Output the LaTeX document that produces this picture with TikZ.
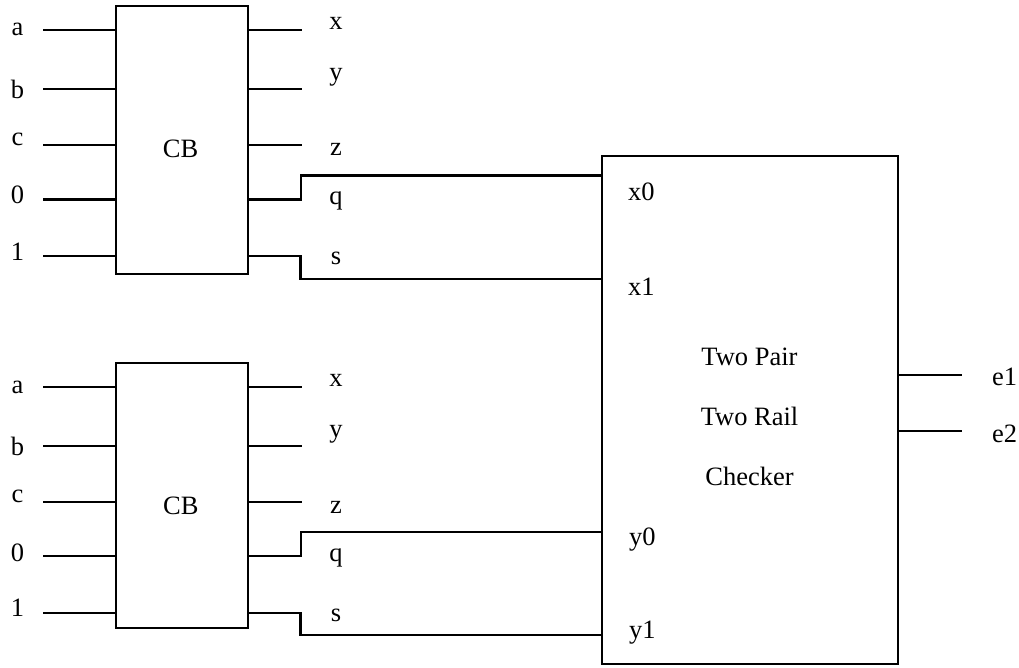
\documentclass[tikz,border=0pt]{standalone}
\usepackage{fontspec}
\setmainfont{Liberation Serif}
\begin{document}
\begin{tikzpicture}[x=1pt,y=-1pt,line width=2.2pt,
  font=\fontsize{26.5}{31}\selectfont,
  blk/.style={draw,rectangle,inner sep=0pt,anchor=north west},
  lbl/.style={anchor=base,inner sep=0pt},
  lblw/.style={anchor=base west,inner sep=0pt}]
\useasboundingbox (0,0) rectangle (1019,668);

% ---------- blocks ----------
\node[blk,minimum width=132pt,minimum height=267.7pt] (cb1) at (114.5,5) {};
\node[blk,minimum width=131.5pt,minimum height=265pt] (cb2) at (115,361.7) {};
\node[blk,minimum width=296pt,minimum height=508pt] (chk) at (601,155) {};

\node[lbl] (cb1t) at (180.5,157.3) {CB};
\node[lbl] (cb2t) at (180.8,514) {CB};

% ---------- upper CB inputs ----------
\foreach \n/\y/\b in {a/30/36, b/89/99, c/145/146, 0/199.5/204, 1/255.7/260} {
  \node[lbl] (tl\n) at (17.5,\b) {\n};
  \coordinate (ti\n) at (43,\y);
  \draw (ti\n) -- (ti\n -| cb1.west);
}
% ---------- lower CB inputs ----------
\foreach \n/\y/\b in {a/386.7/393, b/446/455, c/501.7/502.7, 0/556/561.7, 1/612.7/616.7} {
  \node[lbl] (bl\n) at (17.5,\b) {\n};
  \coordinate (bi\n) at (43,\y);
  \draw (bi\n) -- (bi\n -| cb2.west);
}

% ---------- upper CB outputs ----------
\foreach \n/\y/\b in {x/30/29.7, y/89/80.5, z/145/156} {
  \coordinate (to\n) at (301.5,\y);
  \draw (to\n -| cb1.east) -- (to\n);
  \node[lbl] (tol\n) at (336,\b) {\n};
}
\node[lbl] (tolq) at (336,204.5) {q};
\node[lbl] (tols) at (336,264.7) {s};

% ---------- lower CB outputs ----------
\foreach \n/\y/\b in {x/386.7/386.7, y/446/437.5, z/501.7/513} {
  \coordinate (bo\n) at (301.5,\y);
  \draw (bo\n -| cb2.east) -- (bo\n);
  \node[lbl] (bol\n) at (336,\b) {\n};
}
\node[lbl] (bolq) at (336,561.5) {q};
\node[lbl] (bols) at (336,621.7) {s};

% ---------- connections to checker ----------
\coordinate (tq) at (301,199.5);
\coordinate (ts) at (300.5,255.7);
\coordinate (bq) at (301,556);
\coordinate (bs) at (300.5,612.7);
\coordinate (px0) at (601,175.5);
\coordinate (px1) at (601,279);
\coordinate (py0) at (601,532);
\coordinate (py1) at (601,635);

\draw (tq -| cb1.east) -- (tq) |- (px0 -| chk.west);
\draw (ts -| cb1.east) -- (ts) |- (px1 -| chk.west);
\draw (bq -| cb2.east) -- (bq) |- (py0 -| chk.west);
\draw (bs -| cb2.east) -- (bs) |- (py1 -| chk.west);

% ---------- checker labels ----------
\node[lblw] (lx0) at (627,200.7) {x0};
\node[lblw] (lx1) at (627,295) {x1};
\node[lblw] (ly0) at (628,545) {y0};
\node[lblw] (ly1) at (628,638) {y1};

\node[lbl] (t1) at (749.5,365) {Two Pair};
\node[lbl] (t2) at (749.5,425) {Two Rail};
\node[lbl] (t3) at (749.5,485) {Checker};

% ---------- checker outputs ----------
\coordinate (oe1) at (962,375);
\coordinate (oe2) at (962,431);
\draw (oe1 -| chk.east) -- (oe1);
\draw (oe2 -| chk.east) -- (oe2);
\node[lblw] (le1) at (991,385) {e1};
\node[lblw] (le2) at (991,442) {e2};
\end{tikzpicture}
\end{document}
